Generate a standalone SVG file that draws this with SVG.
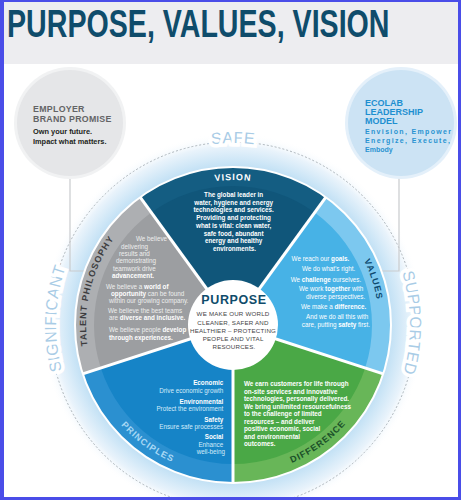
<svg xmlns="http://www.w3.org/2000/svg" width="461" height="500" viewBox="0 0 461 500">
<defs>
<radialGradient id="halo" cx="233" cy="325" r="192" gradientUnits="userSpaceOnUse">
<stop offset="0.80" stop-color="#b9dcf3"/>
<stop offset="0.86" stop-color="#cfe7f7"/>
<stop offset="0.93" stop-color="#e9f3fb"/>
<stop offset="1" stop-color="#ffffff" stop-opacity="0"/>
</radialGradient>
<path id="pVision" d="M160.5,199.43 A145,145 0 0 1 305.5,199.43"/>
<path id="pValues" d="M330.69,216.50 A146,146 0 0 1 375.81,355.35"/>
<path id="pTalent" d="M89.22,355.56 A147,147 0 0 1 120.39,230.53"/>
<path id="pDiff" d="M248.68,474.18 A150,150 0 0 0 370.03,386.01"/>
<path id="pPrin" d="M95.97,386.01 A150,150 0 0 0 217.32,474.18"/>
<path id="pOuterTop" d="M128.6,175.9 A182,182 0 0 1 337.4,175.9"/>
<path id="pOuterL" d="M88.0,426.5 A177,177 0 0 1 88.0,223.5"/>
<path id="pOuterR" d="M378.0,223.5 A177,177 0 0 1 378.0,426.5"/>
</defs>
<style>
.lbl{font-family:"Liberation Sans",Arial,sans-serif;font-weight:bold;font-size:9px;letter-spacing:1px}
.outer{font-family:"Liberation Sans",Arial,sans-serif;font-size:16px;fill:#a9cce6;stroke:#ffffff;stroke-width:7px;paint-order:stroke;letter-spacing:0.3px}
.body{font-family:"Liberation Sans",Arial,sans-serif;font-size:6.3px}
.b{font-weight:bold}
.sep{stroke:#ffffff;stroke-width:3;fill:none}
.conn{stroke:#c9cbcd;stroke-width:1.2;fill:none}
</style>
<rect x="0" y="0" width="461" height="500" fill="#ffffff"/>
<rect x="0" y="0" width="461" height="64" fill="#ededf0"/>
<text transform="translate(7,37) scale(0.753,1)" x="0" y="0" font-family="Liberation Sans,Arial,sans-serif" font-weight="bold" font-size="38" fill="#0f4c6b">PURPOSE, VALUES, VISION</text>

<g id="halo-ring">
<circle cx="233" cy="325" r="192" fill="url(#halo)"/>
<circle cx="233" cy="325" r="183" fill="none" stroke="#9aa3aa" stroke-width="0.8" stroke-dasharray="2 2"/>
</g>

<g id="connectors">
<path class="conn" d="M70,176 V271 H92"/>
<path class="conn" d="M399,176 V271 H376"/>
</g>

<g id="outer-labels">
<text class="outer" text-anchor="middle"><textPath href="#pOuterTop" startOffset="50%">SAFE</textPath></text>
<text class="outer" text-anchor="middle"><textPath href="#pOuterL" startOffset="53%">SIGNIFICANT</textPath></text>
<text class="outer" text-anchor="middle"><textPath href="#pOuterR" startOffset="49%">SUPPORTED</textPath></text>
</g>

<g id="employer">
<circle cx="70" cy="123" r="56" fill="#f1f2f3"/>
<circle cx="70" cy="123" r="53" fill="#e5e6e8"/>
<text x="33" y="112" font-family="Liberation Sans,Arial,sans-serif" font-weight="bold" font-size="8.8" fill="#636466" letter-spacing="0.3">EMPLOYER</text>
<text x="33" y="122" font-family="Liberation Sans,Arial,sans-serif" font-weight="bold" font-size="8.8" fill="#636466" letter-spacing="0.3">BRAND PROMISE</text>
<text x="33" y="134" font-family="Liberation Sans,Arial,sans-serif" font-weight="bold" font-size="7.4" fill="#231f20">Own your future.</text>
<text x="33" y="144" font-family="Liberation Sans,Arial,sans-serif" font-weight="bold" font-size="7.4" fill="#231f20">Impact what matters.</text>
</g>

<g id="ecolab">
<circle cx="401" cy="123" r="56" fill="#e4f0fa"/>
<circle cx="401" cy="123" r="53" fill="#cce3f4"/>
<text x="365" y="106" font-family="Liberation Sans,Arial,sans-serif" font-weight="bold" font-size="9" fill="#1e8fd0">ECOLAB</text>
<text x="365" y="115" font-family="Liberation Sans,Arial,sans-serif" font-weight="bold" font-size="9" fill="#1e8fd0">LEADERSHIP</text>
<text x="365" y="124" font-family="Liberation Sans,Arial,sans-serif" font-weight="bold" font-size="9" fill="#1e8fd0">MODEL</text>
<text x="365" y="134" font-family="Liberation Sans,Arial,sans-serif" font-weight="bold" font-size="7" fill="#2a93d1" textLength="86" lengthAdjust="spacing">Envision, Empower</text>
<text x="365" y="143" font-family="Liberation Sans,Arial,sans-serif" font-weight="bold" font-size="7" fill="#2a93d1" textLength="85" lengthAdjust="spacing">Energize, Execute,</text>
<text x="365" y="152" font-family="Liberation Sans,Arial,sans-serif" font-weight="bold" font-size="7" fill="#2a93d1">Embody</text>
</g>

<g id="vision">
<path d="M233,325 L140.13,197.18 A158,158 0 0 1 325.87,197.18 Z" fill="#10567a"/>
<path d="M140.13,197.18 A158,158 0 0 1 325.87,197.18 L314.70,212.55 A139,139 0 0 0 151.30,212.55 Z" fill="#145d82"/>
<text class="lbl" fill="#ffffff" text-anchor="middle"><textPath href="#pVision" startOffset="50%">VISION</textPath></text>
<text class="body b" fill="#ffffff" text-anchor="middle" font-size="6.1">
<tspan x="234.5" y="197">The global leader in</tspan>
<tspan x="234.5" y="204.7">water, hygiene and energy</tspan>
<tspan x="234.5" y="212.4">technologies and services.</tspan>
<tspan x="234.5" y="220.1">Providing and protecting</tspan>
<tspan x="234.5" y="227.8">what is vital: clean water,</tspan>
<tspan x="234.5" y="235.5">safe food, abundant</tspan>
<tspan x="234.5" y="243.2">energy and healthy</tspan>
<tspan x="234.5" y="250.9">environments.</tspan>
</text>
</g>

<g id="values">
<path d="M233,325 L325.87,197.18 A158,158 0 0 1 383.27,373.82 Z" fill="#47b2e6"/>
<path d="M325.87,197.18 A158,158 0 0 1 383.27,373.82 L365.20,367.95 A139,139 0 0 0 314.70,212.55 Z" fill="#7cc8ef"/>
<text class="lbl" fill="#0d4a70"><textPath href="#pValues" startOffset="50%" text-anchor="middle">VALUES</textPath></text>
<text class="body" fill="#ffffff" text-anchor="end">
<tspan x="351" y="261">We reach our <tspan class="b">goals.</tspan></tspan>
<tspan x="357" y="271">We do what’s right.</tspan>
<tspan x="363" y="281.5">We <tspan class="b">challenge</tspan> ourselves.</tspan>
<tspan x="365" y="291">We work <tspan class="b">together</tspan> with</tspan>
<tspan x="367" y="299">diverse perspectives.</tspan>
<tspan x="368" y="309">We make a <tspan class="b">difference.</tspan></tspan>
<tspan x="370" y="319">And we do all this with</tspan>
<tspan x="370" y="327">care, putting <tspan class="b">safety</tspan> first.</tspan>
</text>
</g>

<g id="difference">
<path d="M233,325 L383.27,373.82 A158,158 0 0 1 233,483 Z" fill="#4aa846"/>
<path d="M383.27,373.82 A158,158 0 0 1 233,483 L233,464 A139,139 0 0 0 365.20,367.95 Z" fill="#68b658"/>
<text class="lbl" fill="#1b5029"><textPath href="#pDiff" startOffset="50%" text-anchor="middle">DIFFERENCE</textPath></text>
<text class="body b" fill="#ffffff" font-size="6">
<tspan x="244" y="386">We earn customers for life through</tspan>
<tspan x="244" y="393.5">on-site services and innovative</tspan>
<tspan x="244" y="401">technologies, personally delivered.</tspan>
<tspan x="244" y="408.5">We bring unlimited resourcefulness</tspan>
<tspan x="244" y="416">to the challenge of limited</tspan>
<tspan x="244" y="423.5">resources – and deliver</tspan>
<tspan x="244" y="431">positive economic, social</tspan>
<tspan x="244" y="438.5">and environmental</tspan>
<tspan x="244" y="446">outcomes.</tspan>
</text>
</g>

<g id="principles">
<path d="M233,325 L233,483 A158,158 0 0 1 82.73,373.82 Z" fill="#1684c7"/>
<path d="M233,483 A158,158 0 0 1 82.73,373.82 L100.80,367.95 A139,139 0 0 0 233,464 Z" fill="#2b90d0"/>
<text class="lbl" fill="#a8d8f5"><textPath href="#pPrin" startOffset="50%" text-anchor="middle">PRINCIPLES</textPath></text>
<text class="body" text-anchor="end">
<tspan x="225" y="385" class="b" fill="#ffffff">Economic</tspan>
<tspan x="225" y="393" fill="#d3ebfa">Drive economic growth</tspan>
<tspan x="225" y="404" class="b" fill="#ffffff">Environmental</tspan>
<tspan x="225" y="411" fill="#d3ebfa">Protect the environment</tspan>
<tspan x="225" y="422" class="b" fill="#ffffff">Safety</tspan>
<tspan x="225" y="429" fill="#d3ebfa">Ensure safe processes</tspan>
<tspan x="225" y="439" class="b" fill="#ffffff">Social</tspan>
<tspan x="225" y="447" fill="#d3ebfa">Enhance</tspan>
<tspan x="225" y="454" fill="#d3ebfa">well-being</tspan>
</text>
</g>

<g id="talent">
<path d="M233,325 L82.73,373.82 A158,158 0 0 1 140.13,197.18 Z" fill="#9c9ea1"/>
<path d="M82.73,373.82 A158,158 0 0 1 140.13,197.18 L151.30,212.55 A139,139 0 0 0 100.80,367.95 Z" fill="#adafb2"/>
<text class="lbl" fill="#3d3d3f"><textPath href="#pTalent" startOffset="50%" text-anchor="middle">TALENT PHILOSOPHY</textPath></text>
<text class="body" fill="#eeeeee" font-size="6.2">
<tspan x="136" y="241">We believe</tspan>
<tspan x="121" y="249">delivering</tspan>
<tspan x="119" y="256">results and</tspan>
<tspan x="116" y="263">demonstrating</tspan>
<tspan x="113" y="271">teamwork drive</tspan>
<tspan x="112" y="278" class="b" fill="#ffffff">advancement.</tspan>
<tspan x="106" y="289">We believe a <tspan class="b" fill="#ffffff">world of</tspan></tspan>
<tspan x="111" y="296"><tspan class="b" fill="#ffffff">opportunity</tspan> can be found</tspan>
<tspan x="109" y="303">within our growing company.</tspan>
<tspan x="108" y="313">We believe the best teams</tspan>
<tspan x="109" y="320">are <tspan class="b" fill="#ffffff">diverse and inclusive.</tspan></tspan>
<tspan x="109" y="332">We believe people <tspan class="b" fill="#ffffff">develop</tspan></tspan>
<tspan x="109" y="340" class="b" fill="#ffffff">through experiences.</tspan>
</text>
</g>

<g id="separators">
<line class="sep" x1="233" y1="325" x2="325.87" y2="197.18"/>
<line class="sep" x1="233" y1="325" x2="383.27" y2="373.82"/>
<line class="sep" x1="233" y1="325" x2="233" y2="483"/>
<line class="sep" x1="233" y1="325" x2="82.73" y2="373.82"/>
<line class="sep" x1="233" y1="325" x2="140.13" y2="197.18"/>
<circle cx="233" cy="325" r="158" fill="none" stroke="#ffffff" stroke-width="2"/>
</g>

<g id="purpose">
<circle cx="233" cy="325" r="45" fill="#ffffff"/>
<text x="234" y="304" text-anchor="middle" font-family="Liberation Sans,Arial,sans-serif" font-weight="bold" font-size="12.5" fill="#0f4c6b" letter-spacing="0.6">PURPOSE</text>
<text font-family="Liberation Sans,Arial,sans-serif" font-size="6.2" fill="#444446" text-anchor="middle" letter-spacing="0.2">
<tspan x="234" y="316">WE MAKE OUR WORLD</tspan>
<tspan x="234" y="324.5">CLEANER, SAFER AND</tspan>
<tspan x="234" y="333">HEALTHIER – PROTECTING</tspan>
<tspan x="234" y="341">PEOPLE AND VITAL</tspan>
<tspan x="234" y="349">RESOURCES.</tspan>
</text>
</g>

<g id="frame">
<rect x="0" y="0" width="4" height="500" fill="#4a4de8"/>
<rect x="0" y="0" width="461" height="2" fill="#4a4de8"/>
<rect x="458" y="0" width="3" height="500" fill="#4a4de8"/>
<rect x="0" y="497" width="461" height="3" fill="#4a4de8"/>
</g>
</svg>
